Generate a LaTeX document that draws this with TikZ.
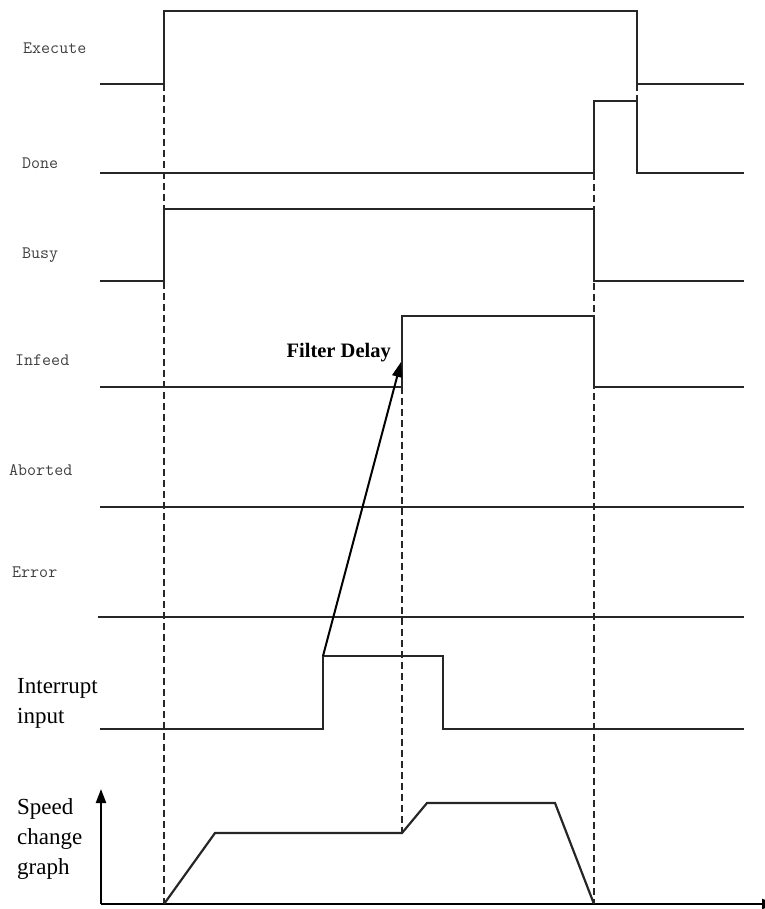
\documentclass[tikz,border=0pt]{standalone}
\usepackage{fontspec}
\setmainfont{Liberation Serif}
\usetikzlibrary{arrows.meta}
\begin{document}
\begin{tikzpicture}[x=1pt,y=-1pt,
  sig/.style={line width=2.2pt,draw=black!85,line join=miter},
  guide/.style={line width=2pt,draw=black!85,dash pattern=on 7pt off 4pt},
  siglabel/.style={anchor=west,inner sep=0pt,font=\ttfamily\fontsize{17.5}{17.5}\selectfont,text=black!75},
  bodylabel/.style={anchor=north west,inner sep=0pt,align=left,font=\fontsize{23}{30}\selectfont,text=black},
  axisarrow/.style={line width=2.2pt,draw=black,-{Triangle[length=14pt,width=10pt]}}]
\useasboundingbox (0,0) rectangle (764,909);

% labels
\node[siglabel] (lexec) at (23,48) {Execute};
\node[siglabel] (ldone) at (22,163) {Done};
\node[siglabel] (lbusy) at (22,255) {Busy};
\node[siglabel] (linfeed) at (15,360) {Infeed};
\node[siglabel] (labort) at (9,470) {Aborted};
\node[siglabel] (lerr) at (12,572) {Error};
\node[bodylabel] (lint) at (17,678) {Interrupt\\input};
\node[bodylabel] (lspeed) at (17,798) {Speed\\change\\graph};
\node[anchor=east,inner sep=0pt,font=\fontsize{20.5}{20.5}\selectfont\bfseries] (lfilter) at (391,353) {Filter Delay};

% guide lines (dashed)
\draw[guide] (164,84) -- (164,904);
\draw[guide] (594,173) -- (594,904);
\draw[guide] (402,387) -- (402,833);
\draw[guide] (637,84) -- (637,101);

% signals
\draw[sig] (100,84) -- (164,84) -- (164,11) -- (637,11) -- (637,84) -- (744,84);
\draw[sig] (100,173) -- (594,173) -- (594,101) -- (637,101) -- (637,173) -- (744,173);
\draw[sig] (100,281) -- (164,281) -- (164,209) -- (594,209) -- (594,281) -- (744,281);
\draw[sig] (100,387) -- (402,387) -- (402,316) -- (594,316) -- (594,387) -- (744,387);
\draw[sig] (100,507) -- (744,507);
\draw[sig] (98,617) -- (744,617);
\draw[sig] (100,729) -- (323,729) -- (323,656) coordinate (irise) -- (443,656) -- (443,729) -- (744,729);

% filter delay arrow
\coordinate (ftip) at (401,362);
\draw[line width=2pt,draw=black,-{Triangle[length=15pt,width=10pt]}] (irise) -- (ftip);

% speed graph axes
\coordinate (origin) at (101,904);
\coordinate (ytop) at (101,789);
\coordinate (xend) at (776,904);
\draw[axisarrow] (origin) -- (ytop);
\draw[axisarrow] (origin) -- (xend);

% speed curve
\draw[sig] (164,904) -- (215,833) -- (402,833) -- (427,803) -- (555,803) -- (594,904);
\end{tikzpicture}
\end{document}
